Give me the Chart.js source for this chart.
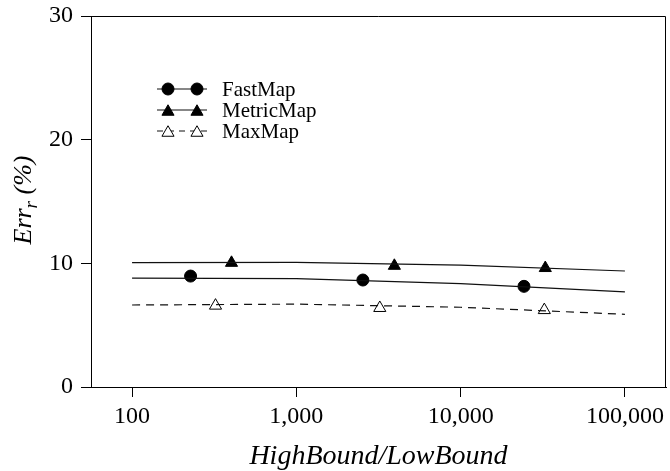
<!DOCTYPE html>
<html>
<head>
<meta charset="utf-8">
<script src="https://cdn.jsdelivr.net/npm/chart.js@4/dist/chart.umd.min.js"></script>
<style>
  html, body { margin: 0; padding: 0; background: #fff; }
  #wrap { width: 670px; height: 471px; }
</style>
</head>
<body>
<div id="wrap"><canvas id="grafica" width="670" height="471"></canvas></div>
<script>
// datos
var lineaX = [100, 1000, 10000, 100000];
var fastLinea = [8.81, 8.76, 8.36, 7.70];
var metricLinea = [10.05, 10.08, 9.85, 9.38];
var maxLinea = [6.63, 6.70, 6.45, 5.88];

var fastMarcasX = [227, 2540, 24300];
var fastMarcasY = [8.97, 8.65, 8.14];
var metricMarcasX = [403, 3950, 32750];
var metricMarcasY = [10.04, 9.80, 9.62];
var maxMarcasX = [322, 3220, 32300];
var maxMarcasY = [6.58, 6.39, 6.22];

var ticksX = [100, 1000, 10000, 100000];
var ticksY = [0, 10, 20, 30];
var nombres = ['FastMap', 'MetricMap', 'MaxMap'];

var fuente = "'Liberation Serif', 'Times New Roman', serif";

function puntos(xs, ys) {
    return xs.map(function (x, i) { return { x: x, y: ys[i] }; });
}

function serieLinea(xs, ys, dash) {
    return {
        data: puntos(xs, ys),
        borderColor: '#111',
        borderWidth: 1.2,
        borderDash: dash,
        pointRadius: 0,
        fill: false,
        tension: 0
    };
}

function serieMarcas(xs, ys, estilo, relleno, radio) {
    return {
        data: puntos(xs, ys),
        showLine: false,
        pointStyle: estilo,
        pointRadius: radio,
        pointBackgroundColor: relleno,
        pointBorderColor: '#000',
        pointBorderWidth: 1
    };
}

// leyenda con dos marcas por fila, y titulo del eje y con subindice
var extras = {
    id: 'extras',
    afterDraw: function (chart) {
        var ctx = chart.ctx;
        var a = chart.chartArea;
        ctx.save();

        // marco superior y derecho
        ctx.strokeStyle = '#000';
        ctx.lineWidth = 1;
        ctx.beginPath();
        ctx.moveTo(a.left, a.top + 0.5);
        ctx.lineTo(a.right - 0.5, a.top + 0.5);
        ctx.lineTo(a.right - 0.5, a.bottom);
        ctx.stroke();

        // leyenda
        var filas = [
            { y: 89, estilo: 'circle', relleno: '#000', radio: 6, dash: [] },
            { y: 110, estilo: 'triangle', relleno: '#000', radio: 7, dash: [] },
            { y: 131, estilo: 'triangle', relleno: '#fff', radio: 7, dash: [6, 5] }
        ];
        filas.forEach(function (f, i) {
            ctx.strokeStyle = '#111';
            ctx.lineWidth = 1.2;
            ctx.setLineDash(f.dash);
            ctx.beginPath();
            ctx.moveTo(157, f.y);
            ctx.lineTo(207, f.y);
            ctx.stroke();
            ctx.setLineDash([]);
            var dy = f.estilo === 'triangle' ? 1.75 : 0;
            [168, 197].forEach(function (mx) {
                ctx.fillStyle = f.relleno;
                ctx.strokeStyle = '#000';
                ctx.lineWidth = 1;
                Chart.helpers.drawPoint(ctx, { pointStyle: f.estilo, radius: f.radio, rotation: 0, borderWidth: 1 }, mx, f.y + dy);
            });
            ctx.fillStyle = '#000';
            ctx.font = '21px ' + fuente;
            ctx.textAlign = 'left';
            ctx.textBaseline = 'middle';
            ctx.fillText(nombres[i], 222, f.y + 1);
        });

        // titulo eje x
        ctx.fillStyle = '#000';
        ctx.font = 'italic 28px ' + fuente;
        ctx.textAlign = 'center';
        ctx.textBaseline = 'alphabetic';
        ctx.fillText('HighBound/LowBound', (a.left + a.right) / 2, 464);

        // titulo eje y: Err_r (%)
        ctx.translate(31, 200);
        ctx.rotate(-Math.PI / 2);
        var f1 = 'italic 26px ' + fuente;
        var f2 = 'italic 19px ' + fuente;
        ctx.font = f1;
        var w1 = ctx.measureText('Err').width;
        var w3 = ctx.measureText(' (%)').width;
        ctx.font = f2;
        var w2 = ctx.measureText('r').width;
        var x0 = -(w1 + w2 + w3) / 2;
        ctx.textAlign = 'left';
        ctx.font = f1;
        ctx.fillText('Err', x0, 0);
        ctx.font = f2;
        ctx.fillText('r', x0 + w1, 6);
        ctx.font = f1;
        ctx.fillText(' (%)', x0 + w1 + w2, 0);
        ctx.restore();
    }
};

var grafica = document.getElementById('grafica').getContext('2d');
var miGrafica = new Chart(grafica, {
    type: 'line',
    data: {
        datasets: [
            serieLinea(lineaX, fastLinea, []),
            serieLinea(lineaX, metricLinea, []),
            serieLinea(lineaX, maxLinea, [8, 6]),
            serieMarcas(fastMarcasX, fastMarcasY, 'circle', '#000', 6),
            serieMarcas(metricMarcasX, metricMarcasY, 'triangle', '#000', 7),
            serieMarcas(maxMarcasX, maxMarcasY, 'triangle', '#fff', 7)
        ]
    },
    options: {
        responsive: false,
        animation: false,
        layout: { autoPadding: false, padding: { top: 16, right: 4, left: 0, bottom: 0 } },
        plugins: {
            legend: { display: false },
            tooltip: { enabled: false }
        },
        scales: {
            x: {
                type: 'logarithmic',
                min: Math.pow(10, 1.75),
                max: Math.pow(10, 5.25),
                afterBuildTicks: function (scale) {
                    scale.ticks = ticksX.map(function (v) { return { value: v }; });
                },
                afterFit: function (scale) {
                    scale.height = 84;
                    scale.paddingLeft = 0;
                    scale.paddingRight = 0;
                },
                ticks: {
                    autoSkip: false,
                    maxRotation: 0,
                    padding: 5,
                    color: '#000',
                    font: { family: fuente, size: 24 },
                    callback: function (v) { return Number(v).toLocaleString('en-US'); }
                },
                grid: { drawOnChartArea: false, color: '#000', tickLength: 10 },
                border: { color: '#000', width: 1 }
            },
            y: {
                min: 0,
                max: 30,
                afterBuildTicks: function (scale) {
                    scale.ticks = ticksY.map(function (v) { return { value: v }; });
                },
                afterFit: function (scale) {
                    scale.width = 91;
                    scale.paddingTop = 0;
                    scale.paddingBottom = 0;
                },
                ticks: {
                    padding: 8,
                    color: '#000',
                    font: { family: fuente, size: 24 }
                },
                grid: { drawOnChartArea: false, color: '#000', tickLength: 10 },
                border: { color: '#000', width: 1 }
            }
        }
    },
    plugins: [extras]
});
</script>
</body>
</html>
